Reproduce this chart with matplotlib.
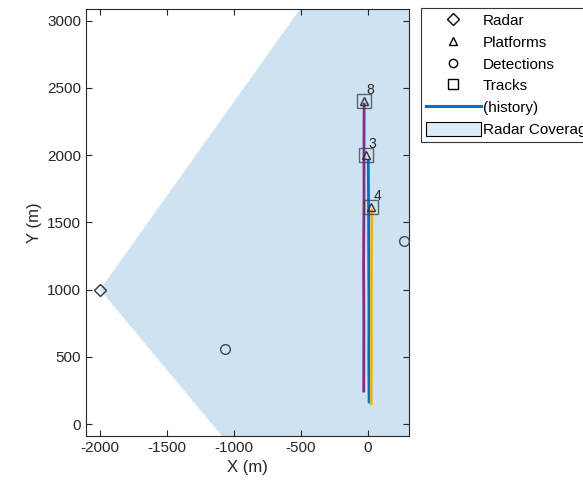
import numpy as np
import matplotlib.pyplot as plt
from matplotlib.patches import Wedge, Patch
from matplotlib.lines import Line2D

plt.rcParams['font.family'] = ['Liberation Sans', 'DejaVu Sans']
plt.rcParams['axes.unicode_minus'] = False

# radar and coverage
radar_xy = (-2000, 1000)
cov_angles = (-50.1, 54.4)   # degrees, sector edges

# detections
det_x = [-1067, 270]
det_y = [555, 1365]

# platforms / tracks
ids = ['8', '3', '4']
plat_x = [-28, -15, 22]
plat_y = [2403, 2001, 1617]

# track histories (x, y)
hist = {
    '8': ([-30, -29, -31, -28, -28, -27], [245, 700, 1200, 1700, 2100, 2380]),
    '3': ([10, 8, 9, 7, 6, 4], [164, 500, 900, 1300, 1650, 1960]),
    '4': ([26, 28, 27, 29, 30], [150, 500, 900, 1300, 1590]),
}
hist_colors = {'8': '#7E2F8E', '3': '#0072BD', '4': '#EDB120'}

fig = plt.figure(figsize=(5.83, 4.91), dpi=100)
ax = fig.add_axes([86/583, 55/491, 322.7/583, 426.7/491])

cov = Wedge(radar_xy, 6000, cov_angles[0], cov_angles[1], facecolor='#cfe2f2', edgecolor='none', zorder=0)
ax.add_patch(cov)

for k in ids:
    hx, hy = hist[k]
    ax.plot(hx, hy, color=hist_colors[k], lw=2.0, zorder=2)

ax.plot(*radar_xy, marker='D', ms=6, mfc='none', mec='#333333', mew=1.0, ls='none', zorder=4)
ax.plot(det_x, det_y, marker='o', ms=7, mfc='none', mec='#3c4a55', mew=1.0, ls='none', zorder=4)
ax.plot(plat_x, plat_y, marker='^', ms=6, mfc='none', mec='#333333', mew=1.0, ls='none', zorder=4)
ax.plot(plat_x, plat_y, marker='s', ms=10, mfc='none', mec='#444444', mew=1.0, ls='none', zorder=4, alpha=0.8)
for k, x, y in zip(ids, plat_x, plat_y):
    ax.text(x + 20, y + 30, k, fontsize=10, color='#222222', ha='left', va='bottom', zorder=5)

ax.set_xlim(-2105, 306)
ax.set_ylim(-89, 3085)
ax.set_xticks([-2000, -1500, -1000, -500, 0])
ax.set_yticks([0, 500, 1000, 1500, 2000, 2500, 3000])
ax.tick_params(direction='in', top=True, right=True, labelsize=11, colors='#262626', length=4)
for s in ax.spines.values():
    s.set_color('#262626')
    s.set_linewidth(0.8)
ax.set_xlabel('X (m)', fontsize=12, color='#262626')
ax.set_ylabel('Y (m)', fontsize=12, color='#262626')

handles = [
    Line2D([], [], marker='D', ms=6, mfc='none', mec='black', ls='none'),
    Line2D([], [], marker='^', ms=6, mfc='none', mec='black', ls='none'),
    Line2D([], [], marker='o', ms=6, mfc='none', mec='black', ls='none'),
    Line2D([], [], marker='s', ms=7, mfc='none', mec='black', ls='none'),
    Line2D([], [], color='#0072BD', lw=2.2),
    Patch(facecolor='#ddebf7', edgecolor='black', lw=0.8),
]
labels = ['Radar', 'Platforms', 'Detections', 'Tracks', '(history)', 'Radar Coverage']
leg = fig.legend(handles, labels, loc='upper left', bbox_to_anchor=(421/583, 1 - 8/491),
                 fontsize=11, frameon=True, fancybox=False, edgecolor='black', borderaxespad=0,
                 handlelength=3.6, handleheight=1.0, handletextpad=0.15, borderpad=0.3,
                 labelspacing=0.45)
leg.get_frame().set_linewidth(0.8)

fig.savefig('out.png', dpi=100)
